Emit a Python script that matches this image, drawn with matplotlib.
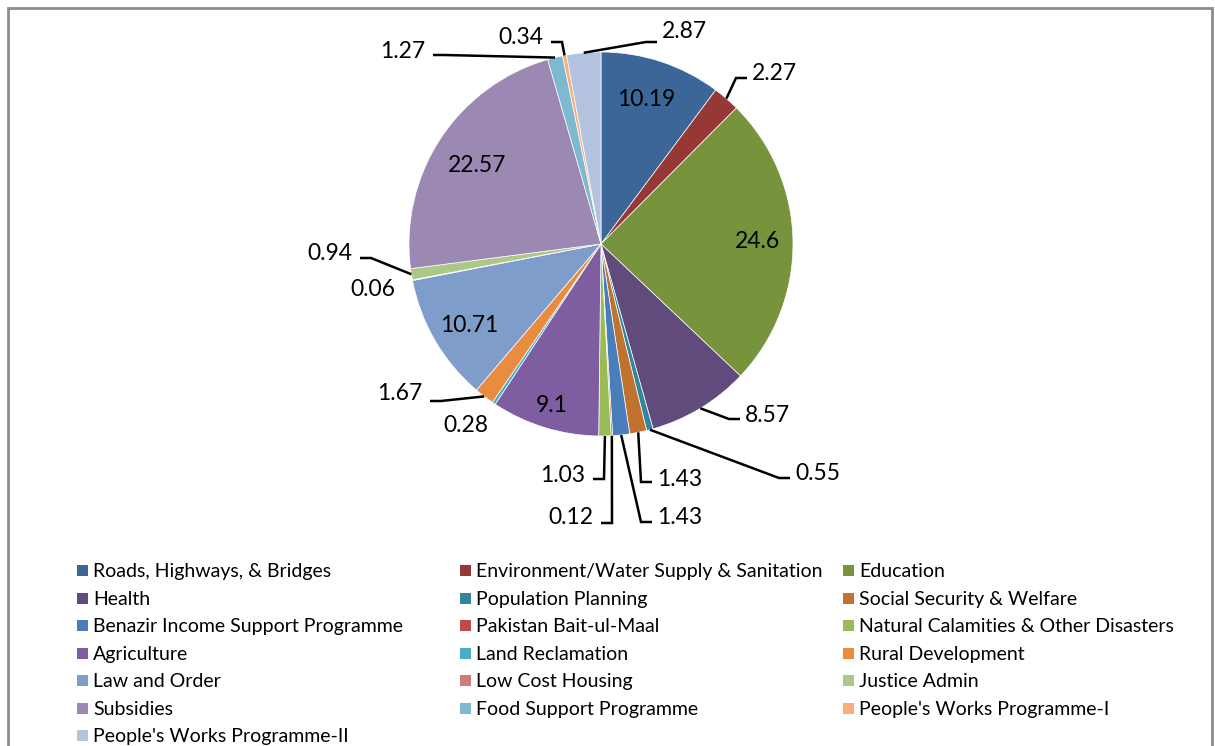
import matplotlib
matplotlib.use("Agg")
import numpy as np
import matplotlib.pyplot as plt
from matplotlib.patches import Rectangle

plt.rcParams['font.family'] = ['Lato', 'DejaVu Sans']

# Budget heads and their percentage share
categories = [
    "Roads, Highways, & Bridges", "Environment/Water Supply & Sanitation", "Education",
    "Health", "Population Planning", "Social Security & Welfare",
    "Benazir Income Support Programme", "Pakistan Bait-ul-Maal", "Natural Calamities & Other Disasters",
    "Agriculture", "Land Reclamation", "Rural Development",
    "Law and Order", "Low Cost Housing", "Justice Admin",
    "Subsidies", "Food Support Programme", "People's Works Programme-I",
    "People's Works Programme-II",
]
shares = [10.19, 2.27, 24.6, 8.57, 0.55, 1.43, 1.43, 0.12, 1.03, 9.1,
          0.28, 1.67, 10.71, 0.06, 0.94, 22.57, 1.27, 0.34, 2.87]

colors = ["#3c6598", "#953836", "#77933c", "#614b7c", "#31859c", "#c0722f",
          "#4a7ebb", "#be4b48", "#9bbb59", "#7e5ea0", "#4bacc6", "#ea8c40",
          "#7f9dcb", "#cd7e7c", "#adc786", "#9b89b3", "#7dbad0", "#f9ae7e",
          "#b3c2de"]

# pie centre and radius in pixels
CX, CY, R = 601, 244, 192
W, H = 1215, 746

# label placement in pixels: x, y (text centre line), alignment, leader y (None = no leader)
label_layout = [
    (646, 98, 'center', None),
    (752, 71, 'left', 78),
    (757, 239, 'center', None),
    (745, 413, 'left', 419),
    (795, 472, 'left', 478),
    (657, 477, 'left', 482),
    (657, 516, 'left', 522),
    (593, 516, 'right', 523),
    (585, 473, 'right', 479),
    (552, 404, 'center', None),
    (466, 424, 'center', None),
    (422, 392, 'right', 401),
    (469, 323, 'center', None),
    (373, 288, 'center', None),
    (352, 252, 'right', 258),
    (477, 163, 'center', None),
    (425, 50, 'right', 55),
    (543, 35, 'right', 42),
    (662, 29, 'left', 42),
]


def px(x, y):
    return (x - CX) / R, (CY - y) / R


fig = plt.figure(figsize=(W / 100, H / 100), dpi=100)
ax = fig.add_axes([0, 0, 1, 1])

wedges, _ = ax.pie(shares, colors=colors, startangle=90, counterclock=False,
                   radius=1, center=(0, 0),
                   wedgeprops=dict(edgecolor='white', linewidth=0.5))

ax.set_xlim(-CX / R, (W - CX) / R)
ax.set_ylim(-(H - CY) / R, CY / R)
ax.set_aspect('auto')
ax.axis('off')

for w, v, (tx, ty, ha, ly) in zip(wedges, shares, label_layout):
    bx, by = px(tx, ty + 8.5)
    ax.text(bx, by, f"{v:g}", ha=ha, va='baseline', fontsize=16.5, color='black')
    if ly is None:
        continue
    mid = np.deg2rad((w.theta1 + w.theta2) / 2)
    ax_, ay_ = np.cos(mid), np.sin(mid)
    if ha == 'left':
        ex = tx - 5
        kx = ex - 11
    else:
        ex = tx + 8
        kx = ex + 11
    (kxd, kyd), (exd, eyd) = px(kx, ly), px(ex, ly)
    ax.plot([ax_, kxd, exd], [ay_, kyd, eyd], color='black', lw=1.8,
            solid_joinstyle='miter', solid_capstyle='butt')

# legend laid out in three equal columns, filled row by row
col_x = [77, 460, 843]
row_y0, row_dy = 570.5, 27.5
box = 11
for i, (name, c) in enumerate(zip(categories, colors)):
    r, k = divmod(i, 3)
    x0 = col_x[k]
    yc = row_y0 + r * row_dy
    bx, by = px(x0, yc + box / 2)
    ax.add_patch(Rectangle((bx, by), box / R, box / R, facecolor=c,
                           edgecolor='none', clip_on=False))
    tx, ty = px(x0 + 16, yc + 6.8)
    ax.text(tx, ty, name, ha='left', va='baseline', fontsize=14, color='black')

# chart frame
fx, fy = px(8, 770)
ax.add_patch(Rectangle((fx, fy), (1212 - 8) / R, (770 - 7.5) / R, facecolor='none',
                       edgecolor='#8c8c8c', lw=2, clip_on=False))

fig.savefig("out.png", dpi=100, facecolor='white')
